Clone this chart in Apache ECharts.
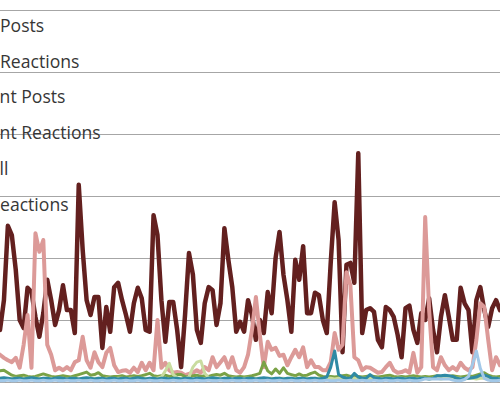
<!DOCTYPE html>
<html><head><meta charset="utf-8">
<script src="https://cdn.jsdelivr.net/npm/echarts@6/dist/echarts.min.js"></script>
<style>html,body{margin:0;padding:0;background:#fff;overflow:hidden}#c{width:500px;height:394px}</style>
</head><body><div id="c"></div>
<script>
// ---- data (daily values) ----
const pageReactions = [
 84,132,252,237,181,100,87,152,145,105,
 73,111,165,132,92,116,156,116,116,79,
 318,213,132,108,137,137,55,121,81,153,
 160,132,108,81,127,152,135,84,81,269,
 237,132,65,129,129,84,24,108,208,173,
 84,63,127,153,148,92,127,248,197,153,
 81,97,81,132,108,68,100,79,145,111,
 200,242,173,132,81,197,165,219,111,111,
 144,140,100,79,192,290,229,48,189,192,
 160,369,79,116,119,113,68,56,121,116,
 105,76,40,119,123,84,63,111,100,135,
 84,48,105,140,105,68,68,152,127,116,
 48,132,153,116,89,119,132,116];
const pagePosts = [
 44,39,35,32,39,23,60,108,23,240,
 210,229,60,44,19,23,19,24,19,32,
 35,73,35,23,48,32,24,47,55,27,
 16,18,19,15,23,16,31,19,31,19,
 100,23,31,19,15,16,15,11,13,15,
 19,15,24,19,40,24,32,40,23,40,
 19,15,24,44,84,137,76,24,65,52,
 55,42,44,27,40,52,40,56,24,35,
 24,24,19,19,32,79,52,60,177,156,
 40,35,19,24,23,19,15,16,24,31,
 19,15,16,19,15,47,15,24,266,116,
 24,19,40,27,19,24,19,31,23,19,
 24,68,127,121,68,19,40,27];
const clientReactions = [
 18,19,15,11,9,10,11,9,8,9,
 11,13,11,9,8,9,10,9,8,10,
 12,14,16,11,12,15,10,9,8,9,
 9,10,8,9,10,9,10,12,14,10,
 9,10,11,9,10,12,12,9,8,10,
 11,9,10,9,11,12,11,14,10,9,
 8,9,8,9,10,12,14,32,18,13,
 21,14,23,14,12,10,13,10,11,14,
 16,11,9,8,9,8,9,10,11,9,
 10,9,8,9,10,9,8,9,10,11,
 9,8,9,8,9,10,9,8,9,8,
 9,10,9,8,9,10,9,8,9,10,
 9,11,13,15,11,9,8,9];
const clientPosts = [
 6,6,5,6,6,5,6,6,5,6,
 6,5,6,6,5,6,6,5,6,6,
 5,6,6,5,6,6,5,6,6,5,
 6,6,5,6,6,5,6,6,5,6,
 6,8,18,30,12,7,6,5,8,24,
 32,34,14,7,6,5,6,6,5,6,
 6,5,6,6,5,6,6,5,6,6,
 5,6,6,5,6,6,5,6,6,5,
 6,6,5,6,6,5,6,6,5,6,
 6,5,6,6,5,6,6,5,6,6,
 5,6,6,5,6,6,5,6,6,5,
 6,6,5,6,6,5,6,6,5,6,
 6,5,6,6,5,6,6,5];
const pollReactions = [
 6,7,6,5,6,6,5,6,7,6,
 5,6,6,5,6,7,6,5,6,6,
 5,6,7,6,5,6,6,5,6,6,
 5,6,6,5,6,7,6,5,6,6,
 5,6,6,5,6,6,5,6,6,5,
 6,6,5,6,7,6,5,6,6,5,
 6,6,5,6,6,5,6,7,6,5,
 6,6,5,6,6,5,6,6,5,6,
 6,5,6,8,24,50,12,8,6,6,
 14,8,6,6,12,7,6,5,6,6,
 5,6,6,5,6,6,5,6,6,5,
 6,10,10,11,10,9,6,5,6,6,
 7,8,11,11,9,6,6,5];
const poll = [
 2,2,3,2,2,3,2,2,3,2,
 2,3,2,2,3,2,2,3,2,2,
 3,2,2,3,2,2,3,2,2,3,
 2,2,3,2,2,3,2,2,3,2,
 2,3,2,2,3,2,2,3,2,2,
 3,2,2,3,2,2,3,2,2,3,
 2,2,3,2,2,3,2,2,3,2,
 2,3,2,2,3,2,2,3,2,2,
 3,2,2,3,2,2,3,2,2,3,
 2,2,3,2,2,3,2,2,3,2,
 2,3,2,2,3,2,2,3,5,5,
 5,5,5,5,5,3,2,2,4,9,
 28,50,22,6,3,2,2,3];
const days = pageReactions.map((_, i) => 'Day ' + (i + 1));
const legendNames = ['Page Posts', 'Page Reactions', 'Client Posts', 'Client Reactions', 'Poll', 'Poll Reactions'];

// ---- layout / style ----
const FONT_SIZE = 17.6, FONT_FAMILY = 'Open Sans';
const legendBaselines = [31.7, 67.5, 103.3, 139.1, 174.9, 210.7];
const hiddenPrefix = ['Page ', 'Page ', 'Clie', 'Clie', 'Po', 'Poll R'];
const penStartX = [0, 0, -0.4, -0.4, -0.4, 0];
const ICON_W = 25, ICON_H = 17;
const ctx = document.createElement('canvas').getContext('2d');
ctx.font = FONT_SIZE + 'px "' + FONT_FAMILY + '"';

const legends = legendNames.map((name, k) => {
  const pw = ctx.measureText(hiddenPrefix[k]).width;
  return {
    data: [name], orient: 'vertical', padding: 0, selectedMode: false,
    itemWidth: ICON_W, itemHeight: ICON_H,
    left: penStartX[k] - pw - ICON_W - 5,
    top: legendBaselines[k] - 0.388 * FONT_SIZE - ICON_H / 2,
    textStyle: { fontFamily: FONT_FAMILY, fontSize: FONT_SIZE, color: '#363636' }
  };
});

const mk = (name, data, color, width) => ({
  name, type: 'line', data, showSymbol: false, symbol: 'none',
  lineStyle: { color, width, join: 'round', cap: 'round' },
  itemStyle: { color }, emphasis: { disabled: true }
});

const chart = echarts.init(document.getElementById('c'), null, { renderer: 'svg' });
chart.setOption({
  animation: false,
  backgroundColor: '#ffffff',
  legend: legends,
  grid: { left: -4, right: -4, top: 10, bottom: 12 },
  xAxis: { type: 'category', data: days, boundaryGap: false,
    axisLabel: { show: false }, axisTick: { show: false },
    axisLine: { show: true, lineStyle: { color: '#a6a6a6' } } },
  yAxis: { type: 'value', min: 0, max: 600, interval: 100,
    axisLabel: { show: false }, axisTick: { show: false }, axisLine: { show: false },
    splitLine: { lineStyle: { color: '#a6a6a6', width: 1 } } },
  series: [
    mk('Page Reactions', pageReactions, '#63201f', 4.5),
    mk('Page Posts', pagePosts, '#dc9a98', 4),
    mk('Client Reactions', clientReactions, '#7aa246', 3),
    mk('Client Posts', clientPosts, '#c9dca0', 3),
    mk('Poll Reactions', pollReactions, '#2f8aa4', 3),
    mk('Poll', poll, '#a2c8e8', 3)
  ]
});

// fine-tune legend text placement from the rendered SVG text metrics
function alignLegendText() {
  const dom = chart.getDom();
  const base = dom.getBoundingClientRect();
  const texts = Array.from(dom.querySelectorAll('svg text'));
  let changed = false;
  legendNames.forEach((name, k) => {
    const el = texts.find(t => t.textContent === name);
    if (!el || !el.getStartPositionOfChar) return;
    try {
      const idx = hiddenPrefix[k].length;
      const p = el.getStartPositionOfChar(idx);
      const ext = el.getExtentOfChar(idx);
      const m = el.getScreenCTM();
      const sx = p.x * m.a + m.e - base.left;
      const baseline = (ext.y + ext.height * (1.069 / 1.362)) * m.d + m.f - base.top;
      const dx = penStartX[k] - sx;
      const dy = legendBaselines[k] - baseline;
      if (isFinite(dx) && isFinite(dy)) {
        legends[k].left += dx;
        legends[k].top += dy;
        changed = true;
      }
    } catch (e) {}
  });
  if (changed) chart.setOption({ legend: legends });
}
try { chart.getZr().refreshImmediately(); } catch (e) {}
alignLegendText();
</script></body></html>
